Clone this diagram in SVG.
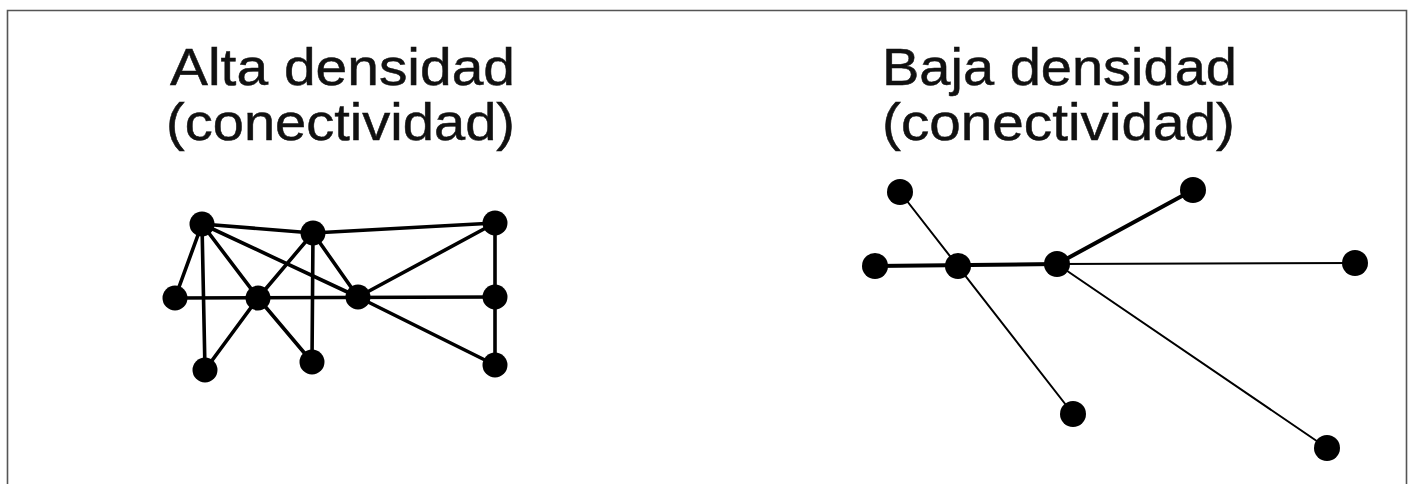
<svg xmlns="http://www.w3.org/2000/svg" width="1413" height="484" viewBox="0 0 1413 484">
  <style>
    .title { font-family: "Liberation Sans", Arial, sans-serif; font-size: 52px; fill: #111; stroke: #111; stroke-width: 0.5; }
    .node { fill: #000; }
    .edge { stroke: #000; stroke-linecap: round; fill: none; }
    .dense { stroke-width: 3.6; }
    .thick { stroke-width: 4; }
    .thin { stroke-width: 2; }
  </style>
  <rect x="0" y="0" width="1413" height="484" fill="#fff"/>
  <!-- frame: top, left, right edges -->
  <path d="M7.5 490 V10.5 H1406.5 V490" fill="none" stroke="#555" stroke-width="1.6"/>

  <!-- titles -->
  <g id="title-alta">
    <text class="title" x="170" y="85" textLength="345" lengthAdjust="spacingAndGlyphs">Alta densidad</text>
    <text class="title" x="166" y="140" textLength="349" lengthAdjust="spacingAndGlyphs">(conectividad)</text>
  </g>
  <g id="title-baja">
    <text class="title" x="882" y="85" textLength="355" lengthAdjust="spacingAndGlyphs">Baja densidad</text>
    <text class="title" x="882" y="140" textLength="353" lengthAdjust="spacingAndGlyphs">(conectividad)</text>
  </g>

  <!-- connectors: dense network -->
  <g id="connectors-dense" class="edge dense">
    <line x1="202" y1="224" x2="313" y2="233"/>
    <line x1="202" y1="224" x2="175" y2="298"/>
    <line x1="202" y1="224" x2="205" y2="370"/>
    <line x1="202" y1="224" x2="258" y2="298"/>
    <line x1="202" y1="224" x2="358" y2="297"/>
    <line x1="258" y1="298" x2="312" y2="362"/>
    <line x1="313" y1="233" x2="495" y2="223"/>
    <line x1="313" y1="233" x2="258" y2="298"/>
    <line x1="313" y1="233" x2="312" y2="362"/>
    <line x1="313" y1="233" x2="358" y2="297"/>
    <line x1="175" y1="298" x2="495" y2="297"/>
    <line x1="258" y1="298" x2="205" y2="370"/>
    <line x1="358" y1="297" x2="495" y2="223"/>
    <line x1="358" y1="297" x2="495" y2="365"/>
    <line x1="495" y1="223" x2="495" y2="297"/>
    <line x1="495" y1="297" x2="495" y2="365"/>
  </g>

  <!-- connectors: sparse network -->
  <g id="connectors-sparse" class="edge">
    <line class="thin" x1="900" y1="192" x2="1073" y2="414"/>
    <line class="thick" x1="875" y1="266" x2="1057" y2="264"/>
    <line class="thick" x1="1057" y1="264" x2="1193" y2="190"/>
    <line class="thin" x1="1057" y1="264" x2="1355" y2="263"/>
    <line class="thin" x1="1057" y1="264" x2="1327" y2="448"/>
  </g>

  <!-- nodes: dense network -->
  <g id="n-a1"><circle class="node" cx="202" cy="224" r="12.5"/></g>
  <g id="n-a2"><circle class="node" cx="313" cy="233" r="12.5"/></g>
  <g id="n-a3"><circle class="node" cx="495" cy="223" r="12.5"/></g>
  <g id="n-a4"><circle class="node" cx="175" cy="298" r="12.5"/></g>
  <g id="n-a5"><circle class="node" cx="258" cy="298" r="12.5"/></g>
  <g id="n-a6"><circle class="node" cx="358" cy="297" r="12.5"/></g>
  <g id="n-a7"><circle class="node" cx="495" cy="297" r="12.5"/></g>
  <g id="n-a8"><circle class="node" cx="205" cy="370" r="12.5"/></g>
  <g id="n-a9"><circle class="node" cx="312" cy="362" r="12.5"/></g>
  <g id="n-a10"><circle class="node" cx="495" cy="365" r="12.5"/></g>

  <!-- nodes: sparse network -->
  <g id="n-b1"><circle class="node" cx="900" cy="192" r="13"/></g>
  <g id="n-b2"><circle class="node" cx="1193" cy="190" r="13"/></g>
  <g id="n-b3"><circle class="node" cx="875" cy="266" r="13"/></g>
  <g id="n-b4"><circle class="node" cx="958" cy="266" r="13"/></g>
  <g id="n-b5"><circle class="node" cx="1057" cy="264" r="13"/></g>
  <g id="n-b6"><circle class="node" cx="1355" cy="263" r="13"/></g>
  <g id="n-b7"><circle class="node" cx="1073" cy="414" r="13"/></g>
  <g id="n-b8"><circle class="node" cx="1327" cy="448" r="13"/></g>
</svg>
